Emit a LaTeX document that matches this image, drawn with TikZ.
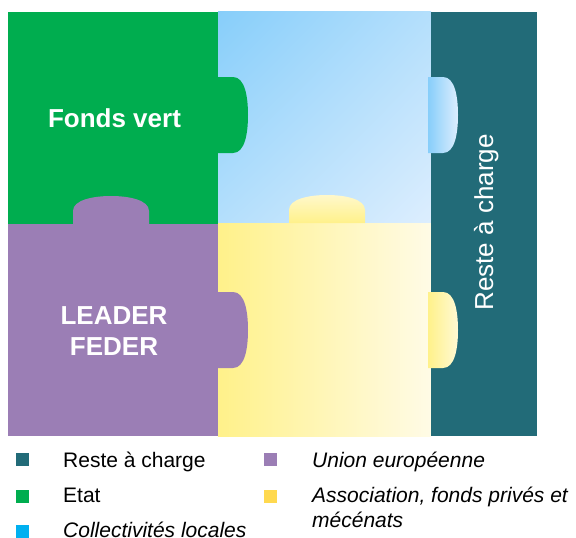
\documentclass[tikz,border=0pt]{standalone}
\usepackage{fontspec}
\setmainfont{Liberation Sans}
\usepackage{tikz}
\usetikzlibrary{
  positioning, % relative placement
  shadings     % four-corner shading
}

\definecolor{resteteal}{HTML}{226B78}
\definecolor{etatgreen}{HTML}{00AD4F}
\definecolor{uepurple}{HTML}{9B7EB5}
\definecolor{skyA}{HTML}{87CEFA}
\definecolor{skyM}{HTML}{B4DFFC}
\definecolor{skyB}{HTML}{DDEEFE}
\definecolor{sunA}{HTML}{FFF18A}
\definecolor{sunB}{HTML}{FFFBE6}
\definecolor{legcyan}{HTML}{00B0F0}
\definecolor{legyellow}{HTML}{FFD94F}

% tab outlines, local frame
\newcommand{\tabside}{(0,0) -- (15,0) .. controls (27,0) and (30,20) .. (30,38)
  .. controls (30,56) and (27,76) .. (15,76) -- (0,76) -- cycle}
\newcommand{\tabtop}{(0,0) -- (0,-13) .. controls (0,-24) and (20,-28) .. (38,-28)
  .. controls (56,-28) and (76,-24) .. (76,-13) -- (76,0) -- cycle}

\tikzset{
  bigtxt/.style={text=white, font=\fontsize{26}{31}\selectfont\bfseries, inner sep=0pt},
  legbox/.style={minimum size=13pt, inner sep=0pt},
  legtxt/.style={font=\fontsize{21}{25}\selectfont, inner sep=0pt, anchor=base west, align=left}
}

\begin{document}
\begin{tikzpicture}[x=1pt, y=-1pt]
  \useasboundingbox (0,0) rectangle (576,538);

  % the four pieces
  \fill[etatgreen] (8,12) rectangle (218,224);
  \shade[upper left=skyA, upper right=skyM, lower left=skyM, lower right=skyB]
    (218,11) rectangle (431,224);
  \fill[uepurple] (8,224) rectangle (218,436);
  \shade[left color=sunA, right color=sunB] (218,223) rectangle (431,436);
  \fill[resteteal] (431,12) rectangle (537,436);

  % tabs
  \fill[etatgreen, shift={(218,77)}] \tabside;
  \fill[uepurple, shift={(218,292)}] \tabside;
  \shade[left color=skyA, right color=skyB, shift={(428,77)}] \tabside;
  \shade[left color=sunA, right color=sunB!80!sunA, shift={(428,292)}] \tabside;
  \fill[uepurple, shift={(73,224)}] \tabtop;
  \shade[bottom color=sunA, top color=sunB!70!sunA, shift={(289,223)}] \tabtop;

  % labels on the pieces
  \node[bigtxt, anchor=base] (fonds) at (114.5,127) {Fonds vert};
  \node[bigtxt, anchor=base] (leader) at (114,324) {LEADER};
  \node[bigtxt, anchor=base] (feder) at (114,355) {FEDER};
  \node[text=white, font=\fontsize{26}{31}\selectfont, inner sep=0pt,
        rotate=90, anchor=base] (reste) at (493,222.5) {Reste à charge};

  % legend
  \node[legbox, fill=resteteal] (k1) at (22.5,459.5) {};
  \node[legbox, fill=etatgreen] (k2) at (22.5,496) {};
  \node[legbox, fill=legcyan] (k3) at (22.5,531.5) {};
  \node[legbox, fill=uepurple] (k4) at (270.5,459.5) {};
  \node[legbox, fill=legyellow] (k5) at (270.5,496) {};
  \node[legtxt] (t1) at (63,467) {Reste à charge};
  \node[legtxt] (t2) at (63,502) {Etat};
  \node[legtxt] (t3) at (63,537) {\itshape Collectivités locales};
  \node[legtxt] (t4) at (312,467) {\itshape Union européenne};
  \node[legtxt] (t5) at (312,527) {\itshape Association, fonds privés et\\\itshape mécénats};
\end{tikzpicture}
\end{document}
